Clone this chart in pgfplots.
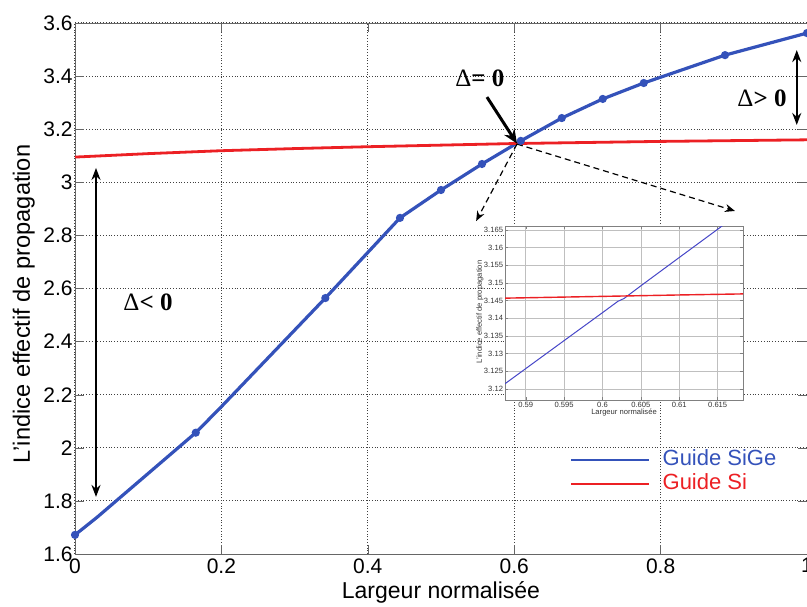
\documentclass[border=0pt]{standalone}
\usepackage{pgfplots}
\pgfplotsset{compat=1.18}
\usepackage{fontspec}
\setmainfont{Liberation Sans}
\newfontfamily\seriffont{Liberation Serif}
\usetikzlibrary{arrows.meta}
\definecolor{sigeblue}{RGB}{52,82,186}
\definecolor{sired}{RGB}{236,32,36}
\definecolor{insetblue}{RGB}{70,70,200}
\begin{document}
\begin{tikzpicture}
\begin{axis}[
  at={(0,0)}, anchor=south west,
  scale only axis, width=366pt, height=265.5pt,
  xmin=0, xmax=1, ymin=1.6, ymax=3.6,
  xtick={0,0.2,0.4,0.6,0.8,1},
  ytick={1.6,1.8,2,2.2,2.4,2.6,2.8,3,3.2,3.4,3.6},
  yticklabels={1.6,1.8,2,2.2,2.4,2.6,2.8,3,3.2,3.4,3.6},
  xticklabels={0,0.2,0.4,0.6,0.8,1},
  grid=major,
  major grid style={black!75, densely dotted, line width=0.5pt},
  axis line style={black!60},
  tick style={black!60},
  tick label style={font=\fontsize{10.5}{12}\selectfont},
  /pgf/number format/assume math mode=true,
  yticklabel style={inner xsep=1pt},
  xticklabel style={inner ysep=2pt},
  xlabel={Largeur normalisée},
  ylabel={L'indice effectif de propagation},
  every axis x label/.style={at={(axis description cs:0.5,-0.0829)}, anchor=base, font=\fontsize{11.5}{13}\selectfont},
  every axis y label/.style={at={(axis description cs:-0.0615,0.471)}, anchor=base, rotate=90, font=\fontsize{11.8}{13}\selectfont},
  legend image code/.code={\draw[#1, line width=1.2pt] (0pt,0pt) -- (39pt,0pt);},
  legend cell align=left,
  legend style={draw=none, fill=none, at={(axis cs:0.676,1.909)}, anchor=west,
    inner sep=0pt, row sep=2pt, column sep=6pt,
    nodes={inner sep=0pt, text height=8pt, text depth=2pt},
    font=\fontsize{11}{13}\selectfont},
]
\addplot[sigeblue, line width=1.6pt, mark=*, mark size=1.2pt,
  mark indices={1,3,5,6,7,8,9,10,11,12,13,14}] coordinates {
(0,1.672) (0.03,1.738) (0.165,2.057) (0.2,2.155) (0.342,2.564)
(0.444,2.866) (0.5,2.971) (0.556,3.069) (0.609,3.156) (0.665,3.242)
(0.721,3.314) (0.777,3.374) (0.888,3.479) (1,3.562)};
\addlegendentry{\textcolor{sigeblue}{Guide SiGe}}
\addplot[sired, line width=1.4pt] coordinates {
(0,3.095) (0.1,3.108) (0.2,3.119) (0.3,3.127) (0.4,3.134) (0.5,3.140)
(0.6,3.146) (0.7,3.150) (0.8,3.154) (0.9,3.157) (1,3.160)};
\addlegendentry{\textcolor{sired}{Guide Si}}
% annotations
\draw[-{Stealth[length=7pt,width=6pt]}, line width=1.5pt] (axis cs:0.5628,3.321) -- (axis cs:0.6038,3.146);
\draw[-{Stealth[length=5pt,width=4pt]}, densely dashed, line width=0.6pt] (axis cs:0.6038,3.144) -- (axis cs:0.548,2.854);
\draw[-{Stealth[length=5pt,width=4pt]}, densely dashed, line width=0.6pt] (axis cs:0.6038,3.144) -- (axis cs:0.9016,2.892);
\draw[{Stealth[length=6pt,width=4.5pt]}-{Stealth[length=6pt,width=4.5pt]}, line width=1pt] (axis cs:0.986,3.216) -- (axis cs:0.986,3.498);
\draw[{Stealth[length=6pt,width=4.5pt]}-{Stealth[length=6pt,width=4.5pt]}, line width=1pt] (axis cs:0.0287,1.815) -- (axis cs:0.0287,3.054);
\node[font=\seriffont\fontsize{12.5}{14}\selectfont, inner sep=0pt] at (axis cs:0.553,3.393) {Δ\textbf{= 0}};
\node[font=\seriffont\fontsize{12.5}{14}\selectfont, inner sep=0pt] at (axis cs:0.9385,3.3175) {Δ\textbf{> 0}};
\node[font=\seriffont\fontsize{12.5}{14}\selectfont, inner sep=0pt] at (axis cs:0.0997,2.549) {Δ\textbf{< 0}};
\end{axis}
% inset
\begin{axis}[
  at={(215pt,77pt)}, anchor=south west,
  scale only axis, width=119pt, height=87pt,
  xmin=0.5873, xmax=0.6183, ymin=3.1169, ymax=3.1661,
  axis background/.style={fill=white},
  xtick={0.59,0.595,0.6,0.605,0.61,0.615},
  xticklabels={0.59,0.595,0.6,0.605,0.61,0.615},
  ytick={3.12,3.125,3.13,3.135,3.14,3.145,3.15,3.155,3.16,3.165},
  yticklabels={3.12,3.125,3.13,3.135,3.14,3.145,3.15,3.155,3.16,3.165},
  grid=major,
  major grid style={black!25, line width=0.3pt},
  axis line style={black!50, line width=0.4pt},
  tick style={black!50},
  major tick length=1.5pt,
  tick label style={font=\fontsize{3.8}{4}\selectfont, text=black!80},
  yticklabel style={inner xsep=0.8pt},
  xticklabel style={inner ysep=0.8pt},
  xlabel={Largeur normalisée},
  ylabel={L'indice effectif de propagation},
  every axis x label/.style={at={(axis description cs:0.5,-0.069)}, anchor=center, font=\fontsize{3.8}{4}\selectfont, text=black!80},
  every axis y label/.style={at={(axis description cs:-0.105,0.506)}, anchor=center, rotate=90, font=\fontsize{3.8}{4}\selectfont, text=black!80},
]
\addplot[insetblue, line width=0.5pt] coordinates {
(0.5873,3.1215) (0.595,3.1337) (0.6,3.1416) (0.602,3.1448) (0.6028,3.1456)
(0.605,3.1492) (0.61,3.1572) (0.6152,3.1655) (0.6158,3.1665)};
\addplot[sired, line width=0.7pt] coordinates {
(0.5873,3.1457) (0.6,3.1462) (0.61,3.1466) (0.6183,3.1469)};
\end{axis}
\pgfresetboundingbox
\path (-37.5pt,-26pt) rectangle (366pt,277pt);
\end{tikzpicture}
\end{document}
